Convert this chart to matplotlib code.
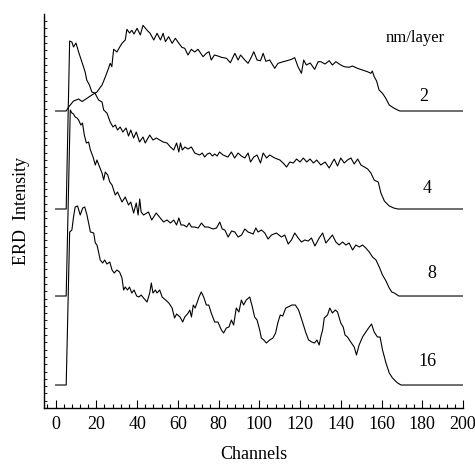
import matplotlib
matplotlib.use("Agg")
import matplotlib.pyplot as plt
from matplotlib.ticker import MultipleLocator

plt.rcParams['font.family'] = ['Liberation Serif', 'DejaVu Serif']

# ERD spectra: (channel, intensity above own baseline), arbitrary units
curve_2 = [(0,0),(5.2,0),(6.4,4),(8.8,10),(11.3,12),(13,9.5),(15.4,12.7),(17.8,16),(20.3,19),(22.8,26),
           (24.4,34),(26,42.7),(26.8,47.7),(27.6,44.3),(28.5,61.7),(30.1,59),(31.4,63.7),(32.6,67.7),(34.2,71),(35,81.7),
           (36.3,78),(37.4,80.7),(38.5,77),(40,82.7),(41.6,76),(42.9,85.7),(44.8,81),(46.4,77.7),(48.2,71),(49.8,77.7),
           (51.5,71),(52.8,77.7),(53.9,69.3),(55.5,74.3),(57.2,67.7),(58.8,72.7),(60.5,67.7),(62,63.7),(63.4,62.7),(65,56),
           (66.6,61.7),(68.3,59),(69.9,61.7),(72.4,54.3),(74,57.7),(75.3,59.3),(76.4,51),(78,56),(79.7,55),(81.4,53.7),
           (83.9,52.7),(85.8,48.3),(88,57.7),(89.6,51),(90.8,56),(92.9,51),(94.5,47.7),(96.2,54.3),(97.3,59.3),(98.9,51),
           (100.6,50.3),(101.9,57.7),(103.2,49.7),(105.1,51),(107.6,42.7),(109.2,47.7),(111.7,49.3),(113.6,50.3),(115.8,51.7),(117.4,53.3),
           (119,44.3),(120.7,37.7),(121.8,51),(123.1,46),(125,48),(127.2,41.7),(128.9,49.3),(130.2,49.3),(132.3,47),(134.3,50.3),
           (135.9,46),(137.6,49.3),(140,46),(141.7,44.3),(144.1,43.7),(145.7,45),(148.2,42.7),(150.6,41),(153.1,39.3),(154.8,37.7),
           (155.5,40),(156.4,34.3),(157.6,30),(158.8,21),(160.5,17.7),(162.1,12.7),(163.8,6),(166.2,2.7),(169,0),(200,0)]

curve_4 = [(0,0),(5.2,0),(6.9,168),(8,167),(8.8,162),(10,166),(11.3,157),(12.1,152),(13.4,144),(14.5,137),
           (15.3,129),(16.6,124),(17.8,117),(19.3,116),(21.1,109),(22.8,107),(23.6,99),(25.2,96),(26.8,87),(28.2,82),
           (29.3,84),(30.4,79),(31.7,82),(33,77),(34.6,81),(35.8,73),(36.9,79),(38.3,71),(39.6,77),(41.2,67),
           (42.9,72),(44,66),(46.2,74),(47.8,69),(49.5,71),(51.1,69),(52.8,67),(54.7,66),(56.4,62),(58,59),
           (59.4,66),(60.5,57),(61.3,66),(62.2,59),(63.5,62),(65,60),(66.7,62),(68.3,56),(70.7,54),(72,56),
           (73.2,52),(74.5,55),(75.7,56),(77,53),(78.1,55),(79.3,53),(80.5,57),(82.2,54),(84.6,52),(86.3,57),
           (87.9,51),(89.6,56),(91.2,53),(92.9,51),(94.5,56),(95.7,47),(97.3,52),(98.9,54),(100.6,46),(101.9,56),
           (103.6,51),(105.1,54),(107.6,51),(110.1,49),(111.7,46),(113.4,42),(115,47),(116.7,46),(118.3,50),(120,47),
           (121.6,51),(123.3,47),(124.9,50),(126.6,46),(128.2,49),(130.2,44),(132.3,47),(134.3,41),(136.8,50),(138.4,43),
           (140,51),(141.7,46),(143.3,49),(145,51),(146.6,45),(148.3,50),(149.9,44),(151.6,42),(153.2,40),(154.8,36),
           (156.4,29),(157.3,28),(158.4,27),(159.7,16),(161.4,8),(163.8,3),(166,1),(168,0),(200,0)]

curve_8 = [(0,0),(5.2,0),(7.2,186),(8,183),(8.8,182),(9.6,179),(10.5,178),(11.3,176),(12.4,171),(13.2,173),
           (14.1,161),(15.1,153),(16.2,154),(17.1,146),(18.4,139),(19.5,131),(20.3,136),(21.6,129),(22.8,123),(23.6,116),
           (24.4,124),(25.6,121),(26.6,114),(27.7,111),(28.5,106),(29.3,101),(30.4,104),(31.5,99),(32.6,94),(34.2,99),
           (35.8,91),(36.9,94),(38.3,83),(39.6,93),(40.5,81),(41.3,97),(42,84),(43.2,81),(45.6,84),(47.2,76),
           (49.4,83),(51.4,78),(53,74),(54.7,76),(56.4,73),(58,76),(59.4,71),(60.5,78),(61.6,71),(62.9,71),
           (64.3,69),(65.6,73),(66.7,69),(68.3,69),(70,68),(71.6,73),(73.2,69),(74.9,69),(77.3,67),(79,68),
           (80.6,74),(81.8,67),(83.1,66),(84.7,59),(86.4,65),(88,64),(89.6,59),(91.3,61),(92.9,67),(94.5,64),
           (97,62),(98.3,68),(99.4,64),(101.1,66),(102.7,63),(104.3,57),(106,61),(108.4,63),(110.9,59),(112.5,61),
           (114.2,52),(115.8,56),(117.4,63),(119.1,58),(120.7,54),(122.3,56),(124,55),(125.6,58),(127.3,50),(129.4,58),
           (131.1,63),(132.7,53),(134.3,57),(135.9,61),(137.6,54),(139.2,51),(140.9,54),(142.5,51),(144.1,53),(145.8,46),
           (147.4,51),(149.1,49),(150.7,51),(152.3,48),(154,44),(155.6,39),(157.3,36),(158.9,29),(160.5,21),(162.2,15),
           (163.8,8),(165,4),(166.3,3),(168.5,0),(200,0)]

curve_16 = [(0,0),(5.2,0),(6.9,153),(8,155),(8.8,168),(9.6,178),(10.8,179),(12.1,170),(13.3,177),(14.3,178),
            (15.4,170),(16.2,162),(17.1,153),(18.7,152),(19.5,142),(20.3,140),(21.1,133),(21.9,125),(23.1,122),(24.1,125),
            (25.2,121),(26.6,123),(27.7,115),(28.8,112),(30.1,115),(31.4,113),(32.6,107),(33.4,95),(34.2,98),(35.3,95),
            (36.3,98),(37.4,92),(38.5,95),(39.8,89),(40.9,88),(42,90),(43.2,87),(44.9,83),(46.2,92),(47,102),
            (47.8,92),(49,95),(49.8,92),(51.1,95),(52.3,88),(54,85),(55.6,82),(57.2,77),(58.4,67),(59.4,71),
            (61.1,68),(62.4,63),(63.4,68),(65.1,72),(65.9,75),(66.7,68),(67.6,80),(68.5,77),(69.4,82),(70.4,88),
            (71.5,93),(72.7,88),(74,80),(75.2,80),(76.4,72),(78.1,63),(79.7,63),(81.4,55),(82.5,52),(83.8,57),
            (85.1,58),(86.3,65),(87.4,60),(88.7,77),(90,73),(91.2,85),(92.3,80),(93.6,85),(95.3,88),(96.6,78),
            (97.7,68),(98.9,65),(100.2,55),(101,47),(102.2,45),(103.5,42),(105.1,45),(106.7,47),(108,52),(109.2,63),
            (110.3,70),(111.5,69),(113,77),(114.1,78),(116,80),(117.7,80),(119.3,75),(120.9,65),(122.9,52),(124.2,45),
            (125.8,43),(127.1,42),(128.3,45),(129.4,40),(130.4,50),(131.1,55),(131.9,67),(133.5,70),(134.6,77),(135.9,72),
            (137.3,75),(138.4,73),(140,62),(141.2,58),(142.1,50),(143.3,48),(144.9,43),(146.6,38),(147.7,30),(149,40),
            (150.7,48),(152.3,53),(154,58),(155.1,61),(156.4,53),(158,48),(159.3,48),(160.5,35),(162.2,22),(163.8,12),
            (165.4,7),(167.9,2),(169.6,0),(200,0)]

series = [curve_2, curve_4, curve_8, curve_16]
series_labels = ["2", "4", "8", "16"]
offsets = [297, 199, 112, 23]          # vertical offsets of the stacked spectra
label_pos = [(180.8, 312), (182.3, 220), (184.7, 135), (182.8, 47)]
legend_title = "nm/layer"
x_ticks = list(range(0, 201, 20))

fig = plt.figure(figsize=(4.75, 4.70), dpi=100)
ax = fig.add_axes([0.0926, 0.1319, 0.8821, 0.8383])

for data, off in zip(series, offsets):
    xs = [p[0] for p in data]
    ys = [p[1] + off for p in data]
    ax.plot(xs, ys, color='black', lw=0.8)

for lab, (lx, ly) in zip(series_labels, label_pos):
    ax.text(lx, ly, lab, fontsize=13, ha='center', va='center')
ax.text(176.4, 370, legend_title, fontsize=12, ha='center', va='center')

ax.set_xlim(-5.7, 200)
ax.set_ylim(0, 394)
ax.spines['top'].set_visible(False)
ax.spines['right'].set_visible(False)
ax.spines['left'].set_linewidth(1.0)
ax.spines['bottom'].set_linewidth(1.0)

ax.set_xticks(x_ticks)
ax.xaxis.set_minor_locator(MultipleLocator(4))
ax.yaxis.set_major_locator(MultipleLocator(7.3))
ax.set_yticklabels([])
ax.tick_params(axis='x', which='major', direction='in', length=6, width=0.8, labelsize=13, pad=6)
ax.tick_params(axis='x', which='minor', direction='in', length=3, width=0.8)
ax.tick_params(axis='y', which='major', direction='in', length=2, width=0.6, labelleft=False)

ax.set_xlabel("Channels", fontsize=13, labelpad=9)
ax.set_ylabel("ERD  Intensity", fontsize=13, labelpad=10)

fig.savefig("out.png", dpi=100)
